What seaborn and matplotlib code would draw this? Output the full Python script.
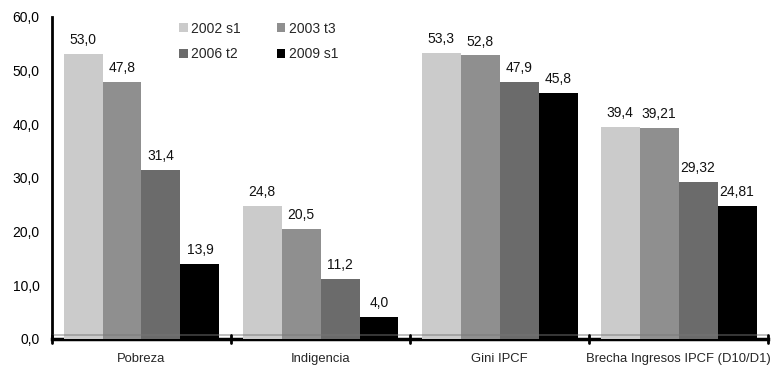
import matplotlib
matplotlib.use("Agg")
import matplotlib.pyplot as plt
import seaborn as sns
import pandas as pd

categories = ["Pobreza", "Indigencia", "Gini IPCF", "Brecha Ingresos IPCF (D10/D1)"]
periods = ["2002 s1", "2003 t3", "2006 t2", "2009 s1"]
values = {
    "2002 s1": [53.0, 24.8, 53.3, 39.4],
    "2003 t3": [47.8, 20.5, 52.8, 39.21],
    "2006 t2": [31.4, 11.2, 47.9, 29.32],
    "2009 s1": [13.9, 4.0, 45.8, 24.81],
}
labels = {
    "2002 s1": ["53,0", "24,8", "53,3", "39,4"],
    "2003 t3": ["47,8", "20,5", "52,8", "39,21"],
    "2006 t2": ["31,4", "11,2", "47,9", "29,32"],
    "2009 s1": ["13,9", "4,0", "45,8", "24,81"],
}
yticks = [0, 10, 20, 30, 40, 50, 60]

rows = []
for p in periods:
    for c, v in zip(categories, values[p]):
        rows.append({"categoria": c, "periodo": p, "valor": v})
df = pd.DataFrame(rows)

sns.set_theme(style="white")
plt.rcParams["font.family"] = ["Liberation Sans", "DejaVu Sans"]

fig = plt.figure(figsize=(7.71, 3.66), dpi=100)
ax = fig.add_axes([0.0674, 0.074, 0.929, 0.88])

palette = ["#cbcbcb", "#8f8f8f", "#6b6b6b", "#000000"]
sns.barplot(data=df, x="categoria", y="valor", hue="periodo", order=categories,
            hue_order=periods, palette=palette, width=0.87, gap=0,
            saturation=1, edgecolor="none", linewidth=0, ax=ax, zorder=3)

# value labels above each bar
for cont, p in zip(ax.containers, periods):
    ax.bar_label(cont, labels=labels[p], padding=5, fontsize=10, color="#111111")

# floor line just above zero
ax.axhline(0.75, color="#777777", alpha=0.55, linewidth=1.2, zorder=4)

ax.set_xlim(-0.5, len(categories) - 0.5)
ax.set_ylim(0, 60)
ax.set_yticks(yticks)
ax.set_yticklabels([f"{t:.1f}".replace(".", ",") for t in yticks], fontsize=10)
ax.set_xlabel("")
ax.set_ylabel("")
ax.tick_params(axis="x", labelsize=9.4, length=0, pad=10)
ax.tick_params(axis="y", length=4, width=1.5, direction="inout", pad=7, colors="black")

for s in ["top", "right"]:
    ax.spines[s].set_visible(False)
ax.spines["left"].set_linewidth(2)
ax.spines["left"].set_color("black")
ax.spines["bottom"].set_linewidth(2.5)
ax.spines["bottom"].set_color("black")

# category boundary ticks on the x axis
for b in [-0.5, 0.5, 1.5, 2.5, 3.5]:
    ax.plot([b, b], [-0.7, 0.7], color="black", linewidth=2.0, clip_on=False, zorder=5)

# legend filled row by row: 2002 s1, 2003 t3 / 2006 t2, 2009 s1
handles, lbls = ax.get_legend_handles_labels()
order = [0, 2, 1, 3]
leg = ax.legend([handles[i] for i in order], [lbls[i] for i in order], ncol=2,
                loc="upper left", bbox_to_anchor=(0.178, 0.985), borderaxespad=0,
                borderpad=0, frameon=False, fontsize=10, handlelength=0.6,
                handleheight=0.6, handletextpad=0.25, columnspacing=2.6,
                labelspacing=0.85)

fig.savefig("out.png", dpi=100)
